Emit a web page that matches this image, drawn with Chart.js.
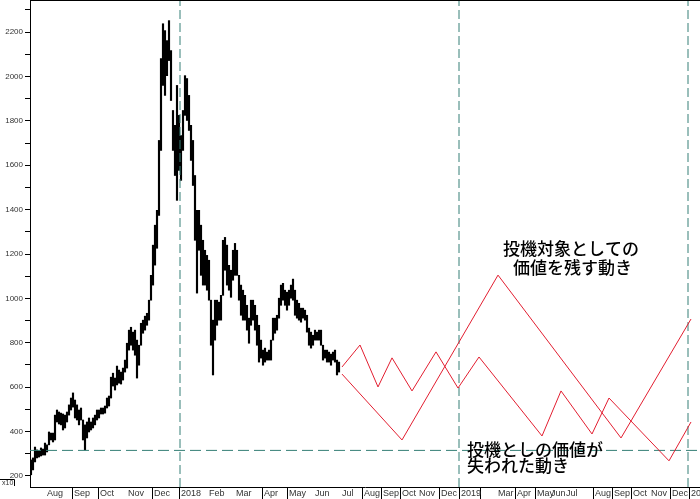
<!DOCTYPE html>
<html><head><meta charset="utf-8">
<script src="https://cdn.jsdelivr.net/npm/chart.js@4"></script>
<style>html,body{margin:0;padding:0;background:#fff}canvas{display:block}</style>
</head><body>
<canvas id="c" width="700" height="499"></canvas>
<script>
// Historical price bars (high / low), one per bar slot
const barHigh = [272,281,330,317,312,326,321,348,340,398,393,393,474,497,488,483,479,474,488,520,
551,574,542,520,497,506,452,430,443,461,443,461,474,497,497,506,506,515,551,560,
645,663,641,695,677,668,686,722,798,857,870,848,857,812,789,888,902,920,933,992,
1104,1240,1330,1397,1712,2081,2238,2207,2162,2252,2117,1847,1780,1960,1825,1734,1847,2004,1991,1915,
1780,1712,1554,1397,1397,1330,1262,1217,1194,1172,992,902,992,992,983,1014,1262,1275,1240,1149,
1127,1217,1248,1217,1104,1060,1037,1014,969,911,992,992,969,924,879,812,767,776,758,767,
812,911,911,924,1001,1060,1068,1037,1028,1037,1060,1087,1037,992,978,956,956,947,924,866,
848,834,857,848,857,857,789,767,767,758,749,758,767,722,713];
const barLow = [205,227,263,281,285,290,294,294,308,340,362,353,362,443,434,430,407,416,443,474,
497,510,461,452,430,452,362,317,371,398,407,416,430,452,461,479,479,483,506,515,
551,605,587,610,618,614,632,668,686,767,789,767,744,641,699,789,843,857,879,902,
992,1060,1150,1226,1374,1667,1960,1915,2004,2072,1892,1667,1554,1442,1577,1532,1667,1825,1802,1757,
1622,1509,1262,1024,1217,1104,1060,1060,1037,992,789,655,812,879,902,902,1014,1127,1060,1037,
1005,1082,1104,1104,992,924,902,902,857,798,879,902,857,789,713,731,699,713,722,722,
722,812,843,857,911,969,992,969,947,969,1001,992,924,911,902,893,911,902,848,789,
776,789,812,812,812,789,722,731,713,713,699,722,713,655,668];

// Projected scenario paths (bar-slot position, price)
const upperPathX = [155.5,185.5,233.5,295,330];
const upperPathY = [659,362,1105,371,907];
const lowerPathX = [155.5,164.5,173.5,180.5,190.5,202.5,213.5,224,255.5,265,280.5,289,319,330];
const lowerPathY = [691,790,601,732,583,759,596,736,380,583,389,551,268,443];

// Reference lines
const yearLines = [74.5,214,328.5];
const supportLevel = 315;

// X axis month ticks
const monthPos = [7,20.5,33.5,47.5,60.5,74,88,101.5,115.5,128,141,154.5,165.5,175,184.5,193,204,214,224.5,232.5,242,252,259,266.5,281,290.5,300,309,319.5,329];
const monthLabels = ['Aug','Sep','Oct','Nov','Dec','2018','Feb','Mar','Apr','May','Jun','Jul','Aug','Sep','Oct','Nov','Dec','2019','','Mar','Apr','May','Jun','Jul','Aug','Sep','Oct','Nov','Dec','2020'];
const monthSep = [0,1,1,0,1,1,0,0,1,1,0,0,1,1,1,0,1,1,1,0,1,1,0,0,1,1,1,0,1,1];

// Y axis ticks
const yTickValues = [200,300,400,500,600,700,800,900,1000,1100,1200,1300,1400,1500,1600,1700,1800,1900,2000,2100,2200,2300];
const yLabelStep = 200;

// Annotations
const noteTexts = ['投機対象としての','価値を残す動き','投機としの価値が','失われた動き'];
const noteX = [236,241,218,218];
const noteY = [1226,1140,317,245];

const xMin = -0.5, xMax = 334.5, yMin = 150, yMax = 2345;

const dashColor = '#357f76';
const datasets = [];
datasets.push({
  type:'bar', data: barHigh.map((h,i)=>({x:i, y:[barLow[i], h]})),
  backgroundColor:'#000', borderWidth:0, barThickness:1.5, order:3
});
datasets.push({
  type:'line', data: upperPathX.map((v,i)=>({x:v, y:upperPathY[i]})),
  borderColor:'rgb(226,30,48)', borderWidth:1, pointRadius:0, tension:0, order:1
});
datasets.push({
  type:'line', data: lowerPathX.map((v,i)=>({x:v, y:lowerPathY[i]})),
  borderColor:'rgb(226,30,48)', borderWidth:1, pointRadius:0, tension:0, order:1
});
yearLines.forEach(v=>datasets.push({
  type:'line', data:[{x:v,y:yMin},{x:v,y:yMax}],
  borderColor:dashColor, borderWidth:1, borderDash:[9,4], pointRadius:0, order:2
}));
datasets.push({
  type:'line', data:[{x:xMin,y:supportLevel},{x:xMax,y:supportLevel}],
  borderColor:dashColor, borderWidth:1, borderDash:[11,5], pointRadius:0, order:2
});

const extras = {
  id:'extras',
  afterDraw(chart){
    const {ctx, chartArea:a, scales:{x,y}} = chart;
    ctx.save();
    ctx.strokeStyle='#000'; ctx.lineWidth=1;
    ctx.beginPath(); ctx.moveTo(a.left, a.top+0.5); ctx.lineTo(a.right, a.top+0.5); ctx.stroke();
    ctx.beginPath(); ctx.moveTo(0, a.bottom-7.5); ctx.lineTo(14.5, a.bottom-7.5); ctx.lineTo(14.5, a.bottom-1); ctx.stroke();
    ctx.font='7px "Liberation Sans"'; ctx.fillStyle='#333'; ctx.textBaseline='middle'; ctx.textAlign='left';
    ctx.fillText('x10', 2, a.bottom-4);
    ctx.font='500 17px "Noto Sans CJK JP"'; ctx.fillStyle='#000';
    noteTexts.forEach((t,i)=>ctx.fillText(t, x.getPixelForValue(noteX[i]), y.getPixelForValue(noteY[i])));
    ctx.restore();
  }
};

new Chart(document.getElementById('c'), {
  type:'bar',
  data:{datasets},
  options:{
    responsive:false, animation:false, devicePixelRatio:1,
    layout:{padding:0, autoPadding:false},
    plugins:{legend:{display:false}, tooltip:{enabled:false}},
    scales:{
      x:{type:'linear', min:xMin, max:xMax, offset:false,
        afterBuildTicks: s => { s.ticks = monthPos.map(v=>({value:v})); },
        afterFit: s => { s.height = 12; s.paddingLeft = 0; s.paddingRight = 0; s.paddingTop = 0; s.paddingBottom = 0; },
        grid:{drawOnChartArea:false, offset:false, tickLength:12, lineWidth:1,
          color: c => monthSep[c.index] ? '#000' : 'rgba(0,0,0,0)'},
        border:{color:'#000'},
        ticks:{autoSkip:false, maxRotation:0, minRotation:0, align:'start', labelOffset:2, padding:-11,
          font:{family:'Liberation Sans', size:9}, color:'#333',
          callback:(v,i)=>monthLabels[i]}
      },
      y:{type:'linear', min:yMin, max:yMax,
        afterBuildTicks: s => { s.ticks = yTickValues.map(v=>({value:v})); },
        afterFit: s => { s.width = 30; s.paddingLeft = 0; s.paddingRight = 0; s.paddingTop = 0; s.paddingBottom = 0; },
        grid:{drawOnChartArea:false, tickLength:5, color:'#000'},
        border:{color:'#000'},
        ticks:{padding:2, font:{family:'Liberation Sans', size:8}, color:'#333',
          callback: v => v % yLabelStep === 0 ? String(v) : ''}
      }
    }
  },
  plugins:[extras]
});
</script>
</body></html>
